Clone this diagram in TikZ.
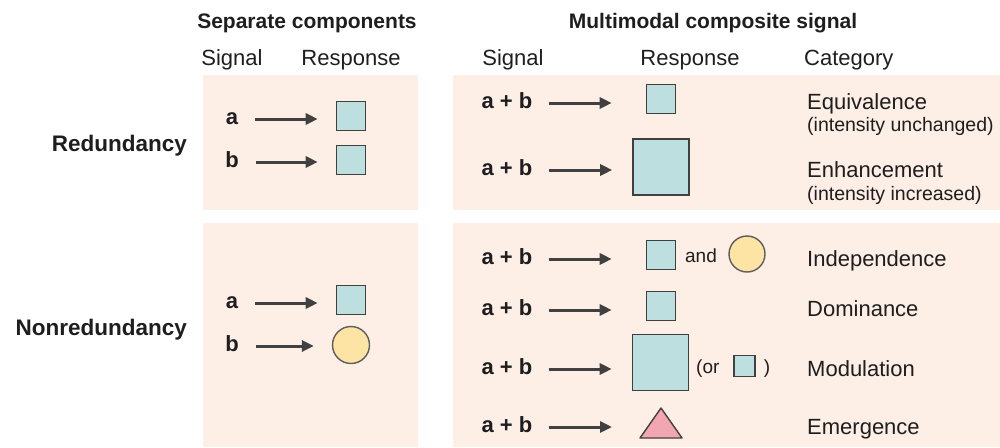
\documentclass[tikz,border=0pt]{standalone}
\usepackage{fontspec}
\setmainfont{Liberation Sans}
\usetikzlibrary{arrows.meta}

\definecolor{panelfill}{HTML}{FDEEE6}
\definecolor{sqfill}{HTML}{BDDFE0}
\definecolor{circfill}{HTML}{FDE3A4}
\definecolor{trifill}{HTML}{F2A6B2}
\definecolor{ink}{HTML}{404040}
\definecolor{txt}{HTML}{1E1E1E}

\newcommand{\fs}[1]{\fontsize{#1}{#1}\selectfont}

\begin{document}
\begin{tikzpicture}[x=1pt,y=-1pt,
  panel/.style={fill=panelfill,draw=none},
  title/.style={font=\fs{21}\bfseries,text=txt,inner sep=0,anchor=base},
  colhead/.style={font=\fs{22},text=txt,inner sep=0,anchor=base},
  rowlab/.style={font=\fs{22.5}\bfseries,text=txt,inner sep=0,anchor=base east},
  sig/.style={font=\fs{22}\bfseries,text=txt,inner sep=0,text height=11.5pt,text depth=0pt,anchor=center},
  cat/.style={font=\fs{22},text=txt,inner sep=0,anchor=base west},
  catsub/.style={font=\fs{19.5},text=txt,inner sep=0,anchor=base west},
  note/.style={font=\fs{19},text=txt,inner sep=0,anchor=base},
  resp/.style={rectangle,draw=ink,line width=1.6pt,fill=sqfill,inner sep=0,minimum size=#1},
  resp/.default=29pt,
  round/.style={circle,draw=ink!85,line width=1.4pt,fill=circfill,inner sep=0,minimum size=#1},
  round/.default=36pt,
  arr/.style={draw=ink,line width=3pt,-{Triangle[length=12pt,width=11pt]}},
]
\useasboundingbox (0,0) rectangle (1000,447);

% background panels
\fill[panel] (203,75) rectangle (418,210);
\fill[panel] (453,75) rectangle (1000,210);
\fill[panel] (203,223) rectangle (418,447);
\fill[panel] (453,223) rectangle (1000,447);

% titles and column headings
\node[title] (t1) at (307,28) {Separate components};
\node[title] (t2) at (713,28) {Multimodal composite signal};
\node[colhead] (h1) at (232,65) {Signal};
\node[colhead] (h2) at (351,65) {Response};
\node[colhead] (h3) at (513,65) {Signal};
\node[colhead] (h4) at (690,65) {Response};
\node[colhead,anchor=base west] (h5) at (804,65) {Category};

% row labels
\node[rowlab] (rr) at (187,151) {Redundancy};
\node[rowlab] (nr) at (187,335) {Nonredundancy};

% separate components, redundancy
\node[sig] (sa1) at (232,119) {a};
\node[sig] (sb1) at (232,162) {b};
\node[resp] (ra1) at (351,116) {};
\node[resp] (rb1) at (351,160) {};
\draw[arr,shorten <=17pt,shorten >=18pt] (sa1.east) -- (sa1.east -| ra1.west);
\draw[arr,shorten <=17pt,shorten >=18pt] (sb1.east) -- (sb1.east -| rb1.west);

% separate components, nonredundancy
\node[sig] (sa2) at (232,303) {a};
\node[sig] (sb2) at (232,346) {b};
\node[resp] (ra2) at (351,300) {};
\node[round,minimum size=37pt] (rb2) at (351,345) {};
\draw[arr,shorten <=17pt,shorten >=18pt] (sa2.east) -- (sa2.east -| ra2.west);
\draw[arr,shorten <=17pt,shorten >=18pt] (sb2.east) -- (sb2.east -| rb2.west);

% composite signal rows
\node[sig] (c1) at (507,103) {a + b};
\node[sig] (c2) at (507,170) {a + b};
\node[sig] (c3) at (507,259) {a + b};
\node[sig] (c4) at (507,310) {a + b};
\node[sig] (c5) at (507,369) {a + b};
\node[sig] (c6) at (507,427) {a + b};

\node[resp] (q1) at (661,99) {};
\node[resp=56pt] (q2) at (661,167) {};
\node[resp] (q3) at (661,255) {};
\node[note] (and) at (701,262) {and};
\node[round] (o3) at (747,254) {};
\node[resp] (q4) at (661,306) {};
\node[resp=56pt] (q5) at (660.5,362.5) {};
\node[note,anchor=base west] (or) at (696,373) {(or};
\node[resp=21pt] (q5s) at (744.5,366) {};
\node[note] (cl) at (767,373) {)};
\coordinate (q6) at (640,423);
\draw[draw=ink,line width=1.4pt,fill=trifill,line join=round]
  (640,438) -- (661,408) -- (682,438) -- cycle;

\draw[arr,shorten <=16pt,shorten >=34pt] (c1.east) -- (c1.east -| q1.west);
\draw[arr,shorten <=16pt,shorten >=20pt] (c2.east) -- (c2.east -| q2.west);
\draw[arr,shorten <=16pt,shorten >=34pt] (c3.east) -- (c3.east -| q3.west);
\draw[arr,shorten <=16pt,shorten >=34pt] (c4.east) -- (c4.east -| q4.west);
\draw[arr,shorten <=16pt,shorten >=20pt] (c5.east) -- (c5.east -| q5.west);
\draw[arr,shorten <=16pt,shorten >=28pt] (c6.east) -- (c6.east -| q6);

% categories
\node[cat] (k1) at (807,109) {Equivalence};
\node[catsub] (k1s) at (807,131) {(intensity unchanged)};
\node[cat] (k2) at (807,177) {Enhancement};
\node[catsub] (k2s) at (807,200) {(intensity increased)};
\node[cat] (k3) at (807,266) {Independence};
\node[cat] (k4) at (807,316) {Dominance};
\node[cat] (k5) at (807,376) {Modulation};
\node[cat] (k6) at (807,434) {Emergence};
\end{tikzpicture}
\end{document}
